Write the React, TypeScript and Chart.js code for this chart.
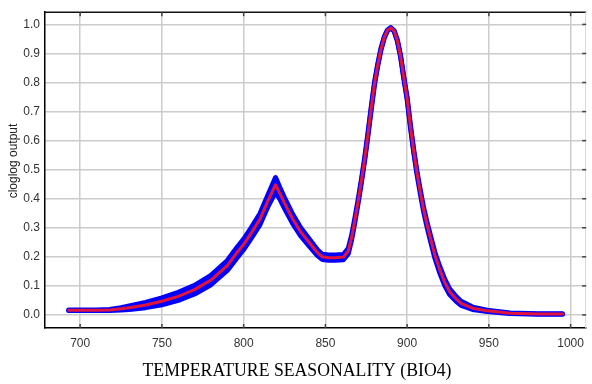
import React, { useEffect, useRef } from "react";
import { Chart, registerables } from "chart.js";

Chart.register(...registerables);

// Temperature seasonality (BIO4) sample positions
const temps = [
  693, 700, 710, 718, 725, 730, 740, 750, 760, 770, 780, 790, 796, 800, 805, 810, 815, 819.5, 822, 825,
  830, 835, 840, 845, 848, 852, 856, 861, 864, 866, 868, 870, 872, 874, 876, 878, 880, 882, 884, 886,
  888, 890, 892, 894, 896, 898, 900, 902, 904, 906, 908, 910, 912, 914, 917, 920, 923, 926, 930, 933,
  940, 949, 963, 980, 995,
];

// Mean cloglog response
const meanResponse = [
  0.016, 0.016, 0.016, 0.017, 0.021, 0.025, 0.034, 0.047, 0.064, 0.087, 0.12, 0.17, 0.215, 0.243, 0.285, 0.33, 0.395, 0.448, 0.42, 0.385,
  0.33, 0.285, 0.25, 0.215, 0.2, 0.197, 0.197, 0.199, 0.22, 0.265, 0.325, 0.39, 0.46, 0.535, 0.62, 0.71, 0.795, 0.86, 0.915, 0.955,
  0.98, 0.988, 0.978, 0.945, 0.89, 0.815, 0.745, 0.65, 0.565, 0.49, 0.425, 0.365, 0.315, 0.27, 0.205, 0.155, 0.112, 0.08, 0.055, 0.04,
  0.023, 0.014, 0.006, 0.003, 0.003,
];

// Spread (± one standard deviation) around the mean
const spread = [
  0.001, 0.001, 0.001, 0.002, 0.004, 0.006, 0.009, 0.012, 0.014, 0.015, 0.016, 0.017, 0.018, 0.018, 0.018, 0.019, 0.02, 0.025, 0.02, 0.018,
  0.016, 0.014, 0.012, 0.01, 0.009, 0.009, 0.009, 0.009, 0.009, 0.008, 0.007, 0.006, 0.005, 0.005, 0.004, 0.004, 0.004, 0.003, 0.003, 0.002,
  0.001, 0.001, 0.001, 0.002, 0.002, 0.003, 0.003, 0.004, 0.004, 0.005, 0.006, 0.007, 0.008, 0.009, 0.01, 0.011, 0.011, 0.01, 0.008, 0.007,
  0.004, 0.002, 0.001, 0.001, 0.001,
];

const xTicks = [700, 750, 800, 850, 900, 950, 1000];
const yTicks = [0, 0.1, 0.2, 0.3, 0.4, 0.5, 0.6, 0.7, 0.8, 0.9, 1.0];

const xTitle = "TEMPERATURE SEASONALITY (BIO4)";
const yTitle = "cloglog output";

const BLUE = "#0000ff";
const RED = "#e3143c";

const framePlugin = {
  id: "frame",
  afterDraw(chart: any) {
    const { ctx, chartArea, scales } = chart;
    const { left, right, top, bottom } = chartArea;
    const line = (x1: number, y1: number, x2: number, y2: number) => {
      ctx.beginPath();
      ctx.moveTo(x1, y1);
      ctx.lineTo(x2, y2);
      ctx.stroke();
    };
    ctx.save();
    // top and right frame
    ctx.lineCap = "butt";
    ctx.strokeStyle = "#111";
    ctx.lineWidth = 1.5;
    line(left, top, right, top);
    ctx.strokeStyle = "#d8d8d8";
    ctx.lineWidth = 1;
    line(right - 0.5, top, right - 0.5, bottom);
    // inward tick marks
    ctx.strokeStyle = "#444";
    ctx.lineWidth = 1.5;
    xTicks.forEach((v) => {
      const px = scales.x.getPixelForValue(v);
      line(px, top, px, top + 4);
      line(px, bottom, px, bottom - 4);
    });
    yTicks.forEach((v) => {
      const py = scales.y.getPixelForValue(v);
      line(right - 4, py, right, py);
    });
    // axis titles
    ctx.fillStyle = "#000";
    ctx.textAlign = "center";
    ctx.textBaseline = "alphabetic";
    ctx.font = '19.5px "Liberation Serif", "Times New Roman", serif';
    ctx.fillText(xTitle, 297, 376, 309);
    ctx.textBaseline = "middle";
    ctx.translate(14, 161);
    ctx.rotate(-Math.PI / 2);
    ctx.font = '12px "Liberation Sans", Arial, sans-serif';
    ctx.fillStyle = "#222";
    ctx.fillText(yTitle, 0, 0);
    ctx.restore();
  },
};

export default function App() {
  const canvasRef = useRef<HTMLCanvasElement | null>(null);

  useEffect(() => {
    document.body.style.margin = "0";
    const canvas = canvasRef.current;
    if (!canvas) return;

    const meanPts = temps.map((t, i) => ({ x: t, y: meanResponse[i] }));
    const upperPts = temps.map((t, i) => ({ x: t, y: meanResponse[i] + spread[i] }));
    const lowerPts = temps.map((t, i) => ({ x: t, y: meanResponse[i] - spread[i] }));

    const tickFont = { family: '"Liberation Sans", Arial, sans-serif', size: 12 };

    const chart = new Chart(canvas, {
      type: "line",
      data: {
        datasets: [
          {
            label: "mean",
            data: meanPts,
            borderColor: RED,
            borderWidth: 3,
            pointRadius: 0,
            tension: 0,
            fill: false,
            borderCapStyle: "round",
            borderJoinStyle: "round",
          },
          {
            label: "upper",
            data: upperPts,
            borderColor: BLUE,
            borderWidth: 5,
            pointRadius: 0,
            tension: 0,
            fill: false,
            borderCapStyle: "round",
            borderJoinStyle: "round",
          },
          {
            label: "lower",
            data: lowerPts,
            borderColor: BLUE,
            backgroundColor: BLUE,
            borderWidth: 5,
            pointRadius: 0,
            tension: 0,
            fill: "-1",
            borderCapStyle: "round",
            borderJoinStyle: "round",
          },
        ],
      },
      options: {
        animation: false,
        responsive: false,
        devicePixelRatio: 1,
        layout: { padding: { top: 11, right: 1, left: 0, bottom: 0 } },
        plugins: {
          legend: { display: false },
          tooltip: { enabled: false },
        },
        scales: {
          x: {
            type: "linear",
            min: 678.5,
            max: 1009.5,
            afterBuildTicks: (scale: any) => {
              scale.ticks = xTicks.map((v) => ({ value: v }));
            },
            afterFit: (scale: any) => {
              scale.height = 56;
            },
            grid: { color: "#cccccc", lineWidth: 1.5, drawTicks: false },
            border: { display: true, color: "#000", width: 1.5 },
            ticks: {
              color: "#333",
              font: tickFont,
              padding: 8,
              maxRotation: 0,
              callback: (v: any) => String(v),
            },
          },
          y: {
            type: "linear",
            min: -0.045,
            max: 1.042,
            afterBuildTicks: (scale: any) => {
              scale.ticks = yTicks.map((v) => ({ value: v }));
            },
            afterFit: (scale: any) => {
              scale.width = 45;
            },
            grid: { color: "#cccccc", lineWidth: 1.5, drawTicks: false },
            border: { display: true, color: "#000", width: 1.5 },
            ticks: {
              color: "#333",
              font: tickFont,
              padding: 5,
              callback: (v: any) => Number(v).toFixed(1),
            },
          },
        },
      },
      plugins: [framePlugin],
    });

    return () => chart.destroy();
  }, []);

  return (
    <div style={{ width: 592, height: 384 }}>
      <canvas ref={canvasRef} width={592} height={384} />
    </div>
  );
}
